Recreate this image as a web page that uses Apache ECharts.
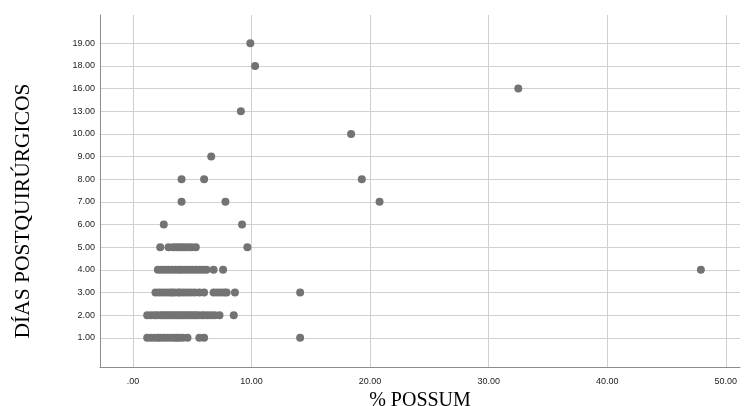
<!DOCTYPE html>
<html>
<head>
<meta charset="utf-8">
<script src="https://cdn.jsdelivr.net/npm/echarts@6/dist/echarts.min.js"></script>
<style>html,body{margin:0;padding:0;background:#fff}#c{width:749px;height:406px}</style>
</head>
<body>
<div id="c"></div>
<script>
// Y categories (días postquirúrgicos)
const dayLabels = ['1.00','2.00','3.00','4.00','5.00','6.00','7.00','8.00','9.00','10.00','13.00','16.00','18.00','19.00'];
// X tick labels (% POSSUM)
const xTicks = [0, 10, 20, 30, 40, 50];
// % POSSUM values for each day category
const day1  = [1.2,1.5,1.8,2.1,2.3,2.6,2.9,3.2,3.5,3.7,3.9,4.2,4.6,5.6,6.0,14.1];
const day2  = [1.2,1.5,1.8,2.0,2.3,2.5,2.7,2.9,3.1,3.3,3.5,3.7,3.9,4.1,4.3,4.5,4.7,4.9,5.1,5.3,5.5,5.8,6.0,6.3,6.6,6.9,7.3,8.5];
const day3  = [1.9,2.2,2.5,2.8,3.1,3.3,3.5,3.8,4.0,4.3,4.6,4.9,5.2,5.6,6.0,6.8,7.1,7.4,7.7,7.9,8.6,14.1];
const day4  = [2.1,2.4,2.7,3.0,3.3,3.6,3.9,4.1,4.4,4.7,5.0,5.3,5.6,5.9,6.2,6.8,7.6,47.9];
const day5  = [2.3,3.0,3.4,3.65,3.9,4.15,4.4,4.7,4.95,5.3,9.65];
const day6  = [2.6,9.2];
const day7  = [4.1,7.8,20.8];
const day8  = [4.1,6.0,19.3];
const day9  = [6.6];
const day10 = [18.4];
const day13 = [9.1];
const day16 = [32.5];
const day18 = [10.3];
const day19 = [9.9];

const groups = [day1,day2,day3,day4,day5,day6,day7,day8,day9,day10,day13,day16,day18,day19];
const points = [];
groups.forEach((g, i) => g.forEach(v => points.push([v, i])));
const yIdx = dayLabels.map((_, i) => i);

const chart = echarts.init(document.getElementById('c'), null, {renderer: 'canvas'});
chart.setOption({
  animation: false,
  backgroundColor: '#ffffff',
  grid: {left: 100, right: 9, top: 15, bottom: 39, containLabel: false, outerBoundsMode: 'none'},
  xAxis: {
    type: 'value',
    min: -2.78, max: 51.2,
    name: '% POSSUM',
    nameLocation: 'middle',
    nameGap: 17,
    nameTextStyle: {fontFamily: 'Liberation Serif', fontSize: 20, color: '#000', verticalAlign: 'top'},
    axisLine: {show: true, onZero: false, lineStyle: {color: '#8c8c8c', width: 1}},
    axisTick: {show: false, customValues: xTicks},
    axisLabel: {customValues: xTicks, fontFamily: 'Liberation Sans', fontSize: 9, color: '#222', margin: 10,
      formatter: v => (Math.abs(v) < 1e-9 ? '.00' : v.toFixed(2))},
    splitLine: {show: true, lineStyle: {color: '#d0d0d0', width: 1}}
  },
  yAxis: {
    type: 'value',
    min: -1.29, max: 14.25,
    name: 'DÍAS POSTQUIRÚRGICOS',
    nameLocation: 'middle',
    nameGap: 66,
    nameTextStyle: {fontFamily: 'Liberation Serif', fontSize: 21.5, color: '#000', padding: [0, 40, 0, 0]},
    axisLine: {show: true, onZero: false, lineStyle: {color: '#8c8c8c', width: 1}},
    axisTick: {show: false, customValues: yIdx},
    axisLabel: {customValues: yIdx, fontFamily: 'Liberation Sans', fontSize: 9, color: '#222', margin: 5,
      formatter: v => dayLabels[Math.round(v)] || ''},
    splitLine: {show: true, lineStyle: {color: '#d0d0d0', width: 1}}
  },
  series: [{
    type: 'scatter',
    data: points,
    symbol: 'circle',
    symbolSize: 8,
    itemStyle: {color: '#737373', opacity: 1}
  }]
});
</script>
</body>
</html>
